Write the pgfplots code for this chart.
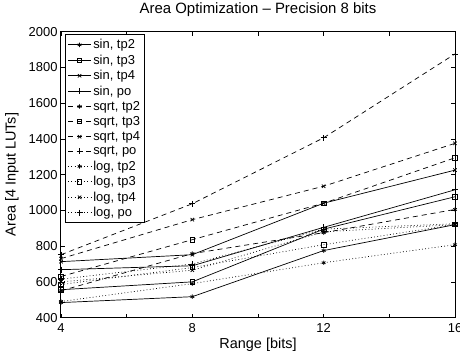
\documentclass[border=0pt]{standalone}
\usepackage{fontspec}
\setmainfont{Liberation Sans}
\usepackage{pgfplots}
\pgfplotsset{compat=1.18}
\usetikzlibrary{calc}
\begin{document}
\begin{tikzpicture}
\begin{axis}[
  scale only axis,
  width=394bp, height=286bp,
  xmin=4, xmax=16, ymin=400, ymax=2000,
  xtick={4,6,8,10,12,14,16},
  xticklabels={4,,8,,12,,16},
  ytick={400,600,...,2000},
  tick align=inside,
  major tick length=4bp,
  axis line style={line width=1bp},
  tick style={line width=0.6bp,black},
  /pgf/number format/assume math mode=true,
  /pgf/number format/1000 sep={},
  tick label style={font=\fontsize{13}{15}\selectfont},
  xticklabel style={yshift=-2bp},
  every axis plot/.append style={line width=0.7bp, black},
  legend style={at={(0.01,0.99)}, anchor=north west, font=\fontsize{13}{15}\selectfont,
     draw=black, line width=0.9bp, row sep=0.6bp, inner sep=2.5bp},
  legend cell align=left,
  legend image code/.code={\draw[mark repeat=2,mark phase=2] plot coordinates {(0cm,0cm) (0.4cm,0cm) (0.8cm,0cm)};},
]
% sin (solid)
\addplot[solid, mark=asterisk, mark size=2.2bp] coordinates {(4,484) (8,517) (12,775) (16,920)};
\addlegendentry{sin, tp2}
\addplot[solid, mark=square, mark size=2.2bp] coordinates {(4,556) (8,600) (12,895) (16,1076)};
\addlegendentry{sin, tp3}
\addplot[solid, mark=x, mark size=2.4bp] coordinates {(4,713) (8,752) (12,1040) (16,1225)};
\addlegendentry{sin, tp4}
\addplot[solid, mark=+, mark size=3bp] coordinates {(4,668) (8,690) (12,905) (16,1115)};
\addlegendentry{sin, po}
% sqrt (dashed)
\addplot[dash pattern=on 5bp off 4bp, mark=asterisk, mark size=2.2bp, mark options={solid}] coordinates {(4,550) (8,758) (12,875) (16,1005)};
\addlegendentry{sqrt, tp2}
\addplot[dash pattern=on 5bp off 4bp, mark=square, mark size=2.2bp, mark options={solid}] coordinates {(4,630) (8,836) (12,1040) (16,1294)};
\addlegendentry{sqrt, tp3}
\addplot[dash pattern=on 5bp off 4bp, mark=x, mark size=2.4bp, mark options={solid}] coordinates {(4,730) (8,948) (12,1135) (16,1375)};
\addlegendentry{sqrt, tp4}
\addplot[dash pattern=on 5bp off 4bp, mark=+, mark size=3bp, mark options={solid}] coordinates {(4,752) (8,1037) (12,1406) (16,1875)};
\addlegendentry{sqrt, po}
% log (dotted)
\addplot[dash pattern=on 0.8bp off 2.4bp, mark=asterisk, mark size=2.2bp, mark options={solid}] coordinates {(4,490) (8,590) (12,707) (16,808)};
\addlegendentry{log, tp2}
\addplot[dash pattern=on 0.8bp off 2.4bp, mark=square, mark size=2.2bp, mark options={solid}] coordinates {(4,585) (8,680) (12,808) (16,920)};
\addlegendentry{log, tp3}
\addplot[dash pattern=on 0.8bp off 2.4bp, mark=x, mark size=2.4bp, mark options={solid}] coordinates {(4,600) (8,665) (12,880) (16,920)};
\addlegendentry{log, tp4}
\addplot[dash pattern=on 0.8bp off 2.4bp, mark=+, mark size=3bp, mark options={solid}] coordinates {(4,615) (8,700) (12,895) (16,925)};
\addlegendentry{log, po}
\end{axis}
\node[font=\fontsize{15}{17}\selectfont] at ($(current axis.north west)!0.5!(current axis.north east)+(0,22bp)$) {Area Optimization -- Precision 8 bits};
\node[font=\fontsize{14.5}{16}\selectfont] at ($(current axis.south west)!0.5!(current axis.south east)+(0,-27bp)$) {Range [bits]};
\node[font=\fontsize{14.5}{16}\selectfont, rotate=90] at ($(current axis.south west)!0.5!(current axis.north west)+(-49bp,0)$) {Area [4 Input LUTs]};
\pgfresetboundingbox
\path[use as bounding box] ($(current axis.south west)+(-61bp,-40bp)$) rectangle ($(current axis.north east)+(5bp,31.6bp)$);
\end{tikzpicture}
\end{document}
